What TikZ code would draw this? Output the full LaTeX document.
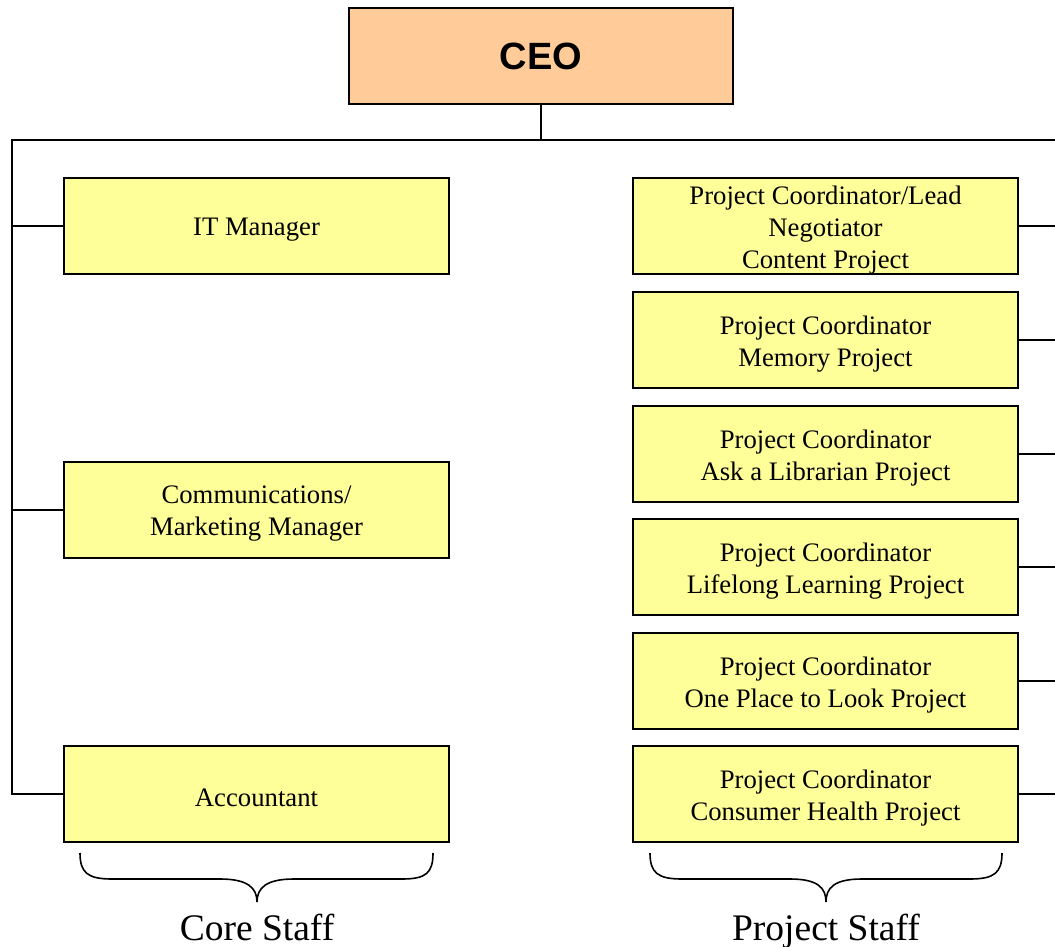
\documentclass[tikz,border=0pt]{standalone}
\usepackage{fontspec}
\setmainfont{Liberation Serif}
\setsansfont{Liberation Sans}
\definecolor{ceofill}{HTML}{FFCC99}
\definecolor{staffill}{HTML}{FFFF99}
\begin{document}
\begin{tikzpicture}[x=1pt,y=-1pt,
  boxtext/.style={align=center, inner sep=0pt, yshift=-4pt,
    font=\fontsize{26.7}{32}\selectfont},
  box/.style={draw=black, line width=1.8pt, fill=staffill,
    minimum width=385pt, minimum height=96pt, inner sep=0pt,
    label={[boxtext]center:#1}},
  ceobox/.style={draw=black, line width=1.8pt, fill=ceofill,
    minimum width=384pt, minimum height=96pt, inner sep=0pt,
    font=\sffamily\bfseries\fontsize{38}{44}\selectfont},
  link/.style={line width=1.8pt, draw=black},
  brace/.style={line width=1.6pt, draw=black},
  group/.style={font=\fontsize{37.5}{42}\selectfont, inner sep=0pt, anchor=base}]
\useasboundingbox (0,0) rectangle (1055,947);

% head of the organisation
\node[ceobox] (ceo) at (541,56) {CEO};

% core staff column
\node[box={IT Manager}] (it) at (256.5,226) {};
\node[box={Communications/\\Marketing Manager}] (comm) at (256.5,510) {};
\node[box={Accountant}] (acc) at (256.5,794) {};

% project staff column
\node[box={Project Coordinator/Lead\\Negotiator\\Content Project}] (p1) at (825.5,226) {};
\node[box={Project Coordinator\\Memory Project}] (p2) at (825.5,340) {};
\node[box={Project Coordinator\\Ask a Librarian Project}] (p3) at (825.5,454) {};
\node[box={Project Coordinator\\Lifelong Learning Project}] (p4) at (825.5,567) {};
\node[box={Project Coordinator\\One Place to Look Project}] (p5) at (825.5,681) {};
\node[box={Project Coordinator\\Consumer Health Project}] (p6) at (825.5,794) {};

% bus lines
\coordinate (busL) at (12,140);
\coordinate (busR) at (1056,140);

\draw[link] (ceo.south) -- (ceo.south |- busL);
\draw[link] (acc.west) -- (acc.west -| busL) -- (busL) -- (busR);
\draw[link] (it.west) -- (it.west -| busL);
\draw[link] (comm.west) -- (comm.west -| busL);
\foreach \n in {p1,p2,p3,p4,p5,p6}
  \draw[link] (\n.east) -- (\n.east -| busR);

% group labels
\node[group] (core) at (257,940) {Core Staff};
\node[group] (proj) at (826,940) {Project Staff};

% curly braces under each column
\draw[brace] (80,853) .. controls (80,873) and (88,879) .. (112,879)
  -- (220,879) .. controls (248,879) and (257,888) .. (257,902)
  .. controls (257,888) and (266,879) .. (294,879)
  -- (402,879) .. controls (426,879) and (433,873) .. (433,853);
\draw[brace] (650,853) .. controls (650,873) and (658,879) .. (682,879)
  -- (790,879) .. controls (818,879) and (826,888) .. (826,902)
  .. controls (826,888) and (834,879) .. (862,879)
  -- (970,879) .. controls (994,879) and (1002,873) .. (1002,853);
\end{tikzpicture}
\end{document}
